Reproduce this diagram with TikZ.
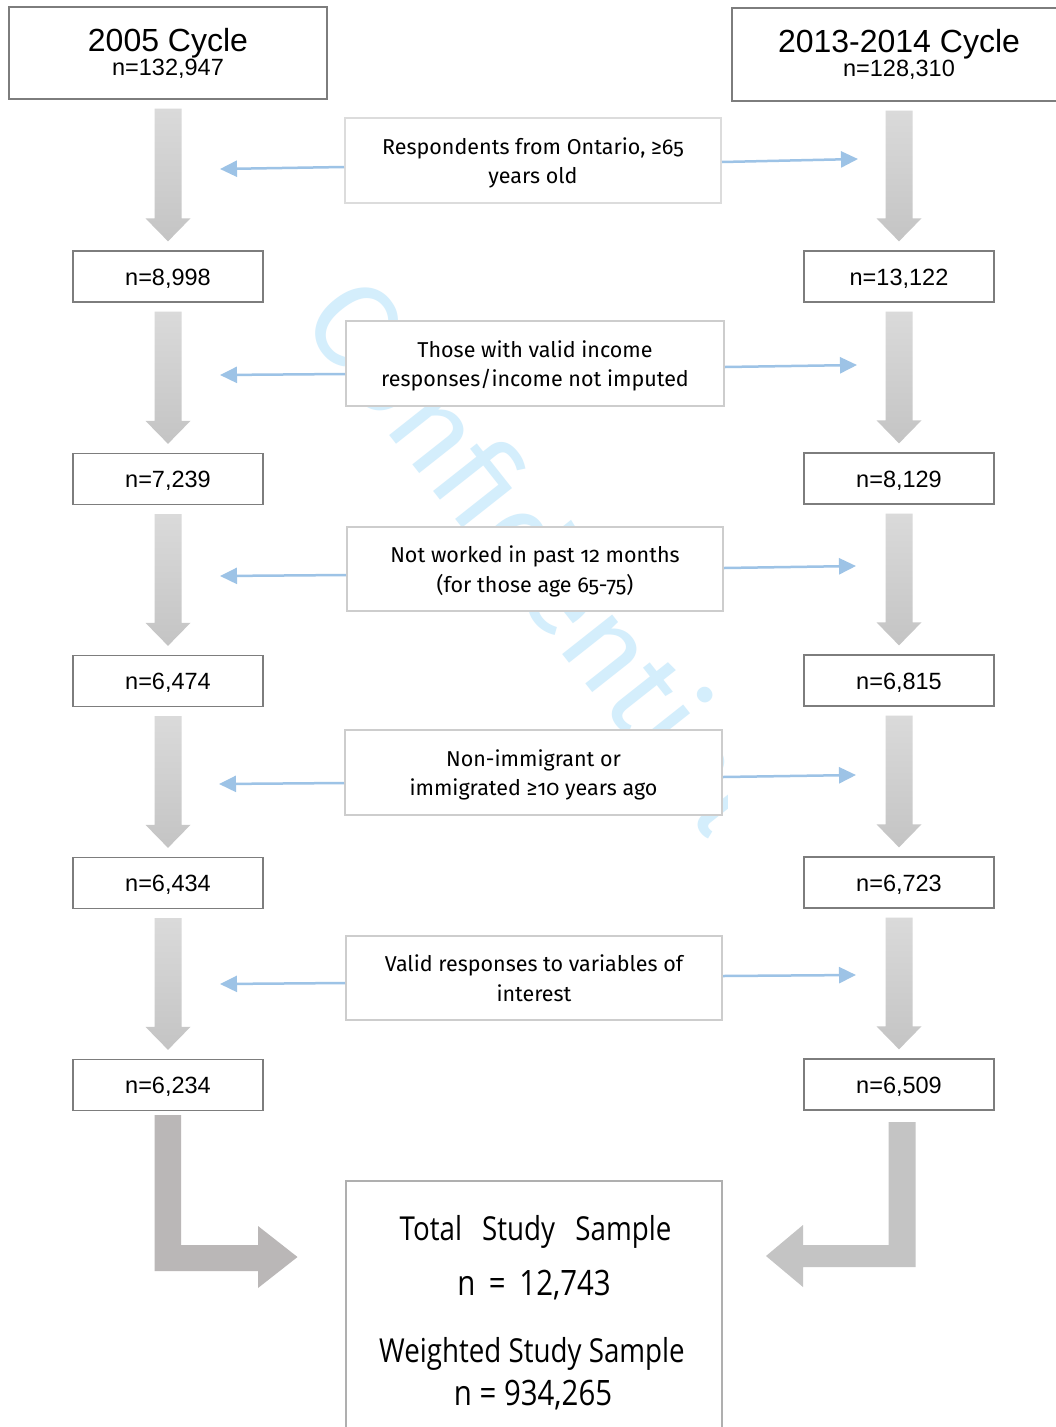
\documentclass[tikz,border=0pt]{standalone}
\usepackage{fontspec}
\setmainfont{Liberation Sans}
\newfontfamily\candfont{Fira Sans}[Numbers=OldStyle]
\newfontfamily\segfont{Open Sans}[FakeStretch=0.84]
\newfontfamily\wmfont{Fira Sans}
\usetikzlibrary{arrows.meta,calc}
\definecolor{wmcol}{RGB}{212,238,252}
\definecolor{bluearr}{RGB}{157,195,230}
\definecolor{boxline}{RGB}{125,125,125}
\definecolor{midline}{RGB}{205,205,205}
\definecolor{finline}{RGB}{175,175,175}
\definecolor{lgray}{RGB}{186,183,183}
\definecolor{rgray}{RGB}{196,196,196}
\definecolor{arrtop}{RGB}{218,218,218}
\definecolor{arrbot}{RGB}{196,196,196}
\newcommand\flowdown[2]{%
  \shade[top color=arrtop,bottom color=arrbot] let \p1=(#1.south), \p2=(#2.north) in
  (\x1-13.5pt,\y1-9pt) -- (\x1+13.5pt,\y1-9pt) -- (\x1+13.5pt,\y2+32pt) --
  (\x1+22.5pt,\y2+32pt) -- (\x1,\y2+9pt) -- (\x1-22.5pt,\y2+32pt) --
  (\x1-13.5pt,\y2+32pt) -- cycle;}
\begin{document}
\begin{tikzpicture}[x=1pt,y=-1pt,
  topbox/.style={draw=boxline,line width=1.3pt,fill=white,align=center,inner sep=0pt},
  nbox/.style={draw=boxline,line width=1.3pt,fill=white,minimum width=190pt,minimum height=51pt,
    inner sep=0pt,font=\fontsize{23.5}{26}\selectfont,text height=17pt,text depth=0pt},
  midbox/.style={draw=midline,line width=2pt,fill=white,align=center,inner sep=0pt,
    text depth=0pt,font=\candfont\fontsize{21.5}{29.5}\selectfont},
  blarr/.style={draw=bluearr,line width=2.5pt,-{Triangle[length=17pt,width=16pt]}},
  fintext/.style={anchor=base,inner sep=0pt,font=\segfont\fontsize{33}{33}\selectfont},
  finnum/.style={anchor=base,inner sep=0pt,font=\segfont\fontsize{35}{36}\selectfont}]
\useasboundingbox (0,0) rectangle (1056,1427);
\fill[white] (0,0) rectangle (1056,1427);
\clip (0,0) rectangle (1056,1427);
% watermark
\begin{scope}
  \clip (0,0) rectangle (727,1427);
  \node[anchor=base west,rotate=-51.7,inner sep=0pt,text=wmcol,font=\wmfont\fontsize{121}{121}\selectfont]
    (wm) at (298,320) {Confidential};
\end{scope}
% top boxes
\node[topbox,minimum width=318pt,minimum height=92pt] (t1) at (168,53)
  {\fontsize{32}{29}\selectfont 2005 Cycle\\\fontsize{23.5}{29}\selectfont n=132,947};
\node[topbox,minimum width=334pt,minimum height=93pt] (t2) at (899,54.5)
  {\fontsize{32}{29}\selectfont 2013-2014 Cycle\\\fontsize{23.5}{29}\selectfont n=128,310};
% n boxes left
\node[nbox] (l1) at (168,276.5) {n=8,998};
\node[nbox] (l2) at (168,479) {n=7,239};
\node[nbox] (l3) at (168,681) {n=6,474};
\node[nbox] (l4) at (168,883) {n=6,434};
\node[nbox] (l5) at (168,1085) {n=6,234};
% n boxes right
\node[nbox] (r1) at (899,276.5) {n=13,122};
\node[nbox] (r2) at (899,478.5) {n=8,129};
\node[nbox] (r3) at (899,680.5) {n=6,815};
\node[nbox] (r4) at (899,882.5) {n=6,723};
\node[nbox] (r5) at (899,1084.5) {n=6,509};
% down arrows
\flowdown{t1}{l1}\flowdown{l1}{l2}\flowdown{l2}{l3}\flowdown{l3}{l4}\flowdown{l4}{l5}
\flowdown{t2}{r1}\flowdown{r1}{r2}\flowdown{r2}{r3}\flowdown{r3}{r4}\flowdown{r4}{r5}
% middle boxes
\node[midbox,draw=midline!70,minimum width=376pt,minimum height=85pt] (m1) at (533,160.5)
  {Respondents from Ontario, ≥65\\years old};
\node[midbox,minimum width=378pt,minimum height=85pt] (m2) at (535,363.5)
  {Those with valid income\\responses/income not imputed};
\node[midbox,minimum width=376pt,minimum height=84pt] (m3) at (535,569)
  {Not worked in past 12 months\\(for those age 65-75)};
\node[midbox,minimum width=377pt,minimum height=85pt] (m4) at (533.5,772.5)
  {Non-immigrant or\\immigrated ≥10 years ago};
\node[midbox,minimum width=376pt,minimum height=84pt] (m5) at (534,978)
  {Valid responses to variables of\\interest};
% blue arrows
\coordinate (ls1) at (0,167);   \coordinate (lt1) at (220,169);
\coordinate (rs1) at (0,162);   \coordinate (rt1) at (858,159);
\coordinate (ls2) at (0,374);   \coordinate (lt2) at (220,375);
\coordinate (rs2) at (0,367);   \coordinate (rt2) at (857,365);
\coordinate (ls3) at (0,575);   \coordinate (lt3) at (220,576);
\coordinate (rs3) at (0,568);   \coordinate (rt3) at (856,566);
\coordinate (ls4) at (0,783);   \coordinate (lt4) at (219,784);
\coordinate (rs4) at (0,777);   \coordinate (rt4) at (856,775);
\coordinate (ls5) at (0,983);   \coordinate (lt5) at (220,984);
\coordinate (rs5) at (0,976);   \coordinate (rt5) at (856,975);
\foreach \i in {1,...,5}{
  \draw[blarr] (m\i.west |- ls\i) -- (lt\i);
  \draw[blarr] (m\i.east |- rs\i) -- (rt\i);
}
% final box
\node[draw=finline,line width=2pt,fill=white,minimum width=376pt,minimum height=300pt,inner sep=0pt]
  (fin) at (534,1331) {};
\node[fintext] (f1) at (535.5,1240) {Total\hspace{13pt} Study\hspace{13pt} Sample};
\node[finnum] (f2) at (534,1295) {n\hspace{6pt} = \hspace{6pt}12,743};
\node[fintext] (f3) at (532,1362) {Weighted Study Sample};
\node[finnum] (f4) at (533,1405) {n = 934,265};
% bent arrows
\fill[lgray] (154.5,1115) -- (181,1115) -- (181,1245) -- (258,1245) -- (258,1226) --
  (297.5,1257) -- (258,1288) -- (258,1271) -- (154.5,1271) -- cycle;
\fill[rgray] (888.5,1122) -- (915.5,1122) -- (915.5,1267) -- (803,1267) -- (803,1287) --
  (766,1256) -- (803,1225) -- (803,1245) -- (888.5,1245) -- cycle;
\end{tikzpicture}
\end{document}
